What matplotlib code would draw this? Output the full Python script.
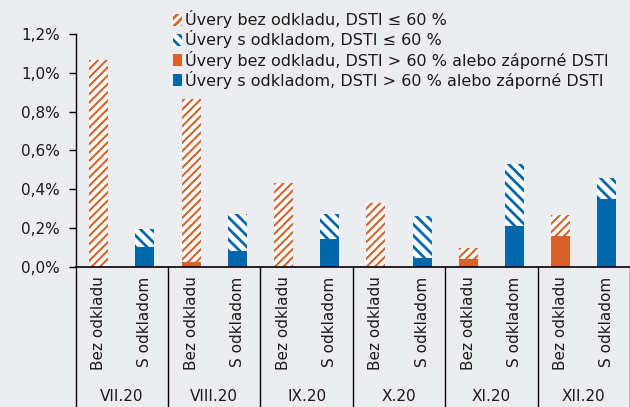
import numpy as np
import matplotlib
matplotlib.use('Agg')
from matplotlib import pyplot as plt
from matplotlib.patches import Patch

# Data (in %)
months = ['VII.20', 'VIII.20', 'IX.20', 'X.20', 'XI.20', 'XII.20']
sub_labels = ['Bez odkladu', 'S odkladom']
# totals of bars
bez_total = [1.065, 0.865, 0.43, 0.33, 0.10, 0.27]
s_total = [0.195, 0.275, 0.275, 0.262, 0.53, 0.46]
# solid part (DSTI > 60 % or negative)
bez_high = [0.0, 0.027, 0.0, 0.0, 0.04, 0.16]
s_high = [0.105, 0.082, 0.143, 0.045, 0.21, 0.35]

legend_labels = ['Úvery bez odkladu, DSTI ≤ 60 %',
                 'Úvery s odkladom, DSTI ≤ 60 %',
                 'Úvery bez odkladu, DSTI > 60 % alebo záporné DSTI',
                 'Úvery s odkladom, DSTI > 60 % alebo záporné DSTI']

orange = '#D9622B'
blue = '#0067AD'
bg = '#ECEDF0'
txt = '#1a1a1a'
fs = 11

plt.rcParams['font.family'] = 'DejaVu Sans'


def hatch_lw(artists, lw):
    # per-artist hatch width where supported
    for a in artists:
        if hasattr(a, 'set_hatch_linewidth'):
            a.set_hatch_linewidth(lw)


fig = plt.figure(figsize=(6.3, 4.07), dpi=100, facecolor=bg)
ax = fig.add_axes([0.12, 0.344, 0.88, 0.5725], facecolor=bg)

n = len(months)
x_bez = np.arange(n) * 2
x_s = x_bez + 1
w = 0.41

bez_low = np.array(bez_total) - np.array(bez_high)
s_low = np.array(s_total) - np.array(s_high)

ax.bar(x_bez, bez_high, w, color=orange, linewidth=0)
plt.rcParams['hatch.linewidth'] = 1.5
b1 = ax.bar(x_bez, bez_low, w, bottom=bez_high, facecolor='white', edgecolor=orange,
            hatch='////', linewidth=0)
hatch_lw(b1, 1.5)
ax.bar(x_s, s_high, w, color=blue, linewidth=0)
plt.rcParams['hatch.linewidth'] = 2.0
b2 = ax.bar(x_s, s_low, w, bottom=s_high, facecolor='white', edgecolor=blue,
            hatch='\\\\\\', linewidth=0)
hatch_lw(b2, 2.0)

ax.set_xlim(-0.5, 2 * n - 0.5)
ax.set_ylim(0, 1.2)
yt = np.arange(0, 1.21, 0.2)
ax.set_yticks(yt)
ax.set_yticklabels([f'{v:.1f}%'.replace('.', ',') for v in yt], fontsize=fs, color=txt)
ax.tick_params(axis='y', length=5, width=1, direction='out', pad=6.5)
ax.set_xticks([])
for s in ['top', 'right']:
    ax.spines[s].set_visible(False)
ax.spines['left'].set_linewidth(1)
ax.spines['bottom'].set_linewidth(1.2)

# category labels below the axis
trans = ax.get_xaxis_transform()
for i in range(n):
    ax.text(x_bez[i], -0.04, sub_labels[0], rotation=90, ha='center', va='top',
            fontsize=fs, transform=trans, color=txt)
    ax.text(x_s[i], -0.04, sub_labels[1], rotation=90, ha='center', va='top',
            fontsize=fs, transform=trans, color=txt)
    ax.text(x_bez[i] + 0.5, -0.555, months[i], ha='center', va='center',
            fontsize=fs, transform=trans, color=txt)
for b in np.arange(n + 1) * 2 - 0.5:
    ax.plot([b, b], [0, -0.62], color='black', lw=1, transform=trans, clip_on=False)

plt.rcParams['hatch.linewidth'] = 1.5
h1 = Patch(facecolor='white', edgecolor=orange, hatch='////', linewidth=0)
plt.rcParams['hatch.linewidth'] = 2.0
h2 = Patch(facecolor='white', edgecolor=blue, hatch='\\\\\\', linewidth=0)
handles = [h1, h2, Patch(facecolor=orange, linewidth=0), Patch(facecolor=blue, linewidth=0)]
fig.legend(handles, legend_labels, loc='upper left', bbox_to_anchor=(0.259, 0.998),
           frameon=False, fontsize=11.5, handlelength=0.55, handleheight=0.8,
           handletextpad=0.2, labelspacing=0.13, borderaxespad=0.2, labelcolor=txt)

fig.savefig('out.png', dpi=100, facecolor=bg)
